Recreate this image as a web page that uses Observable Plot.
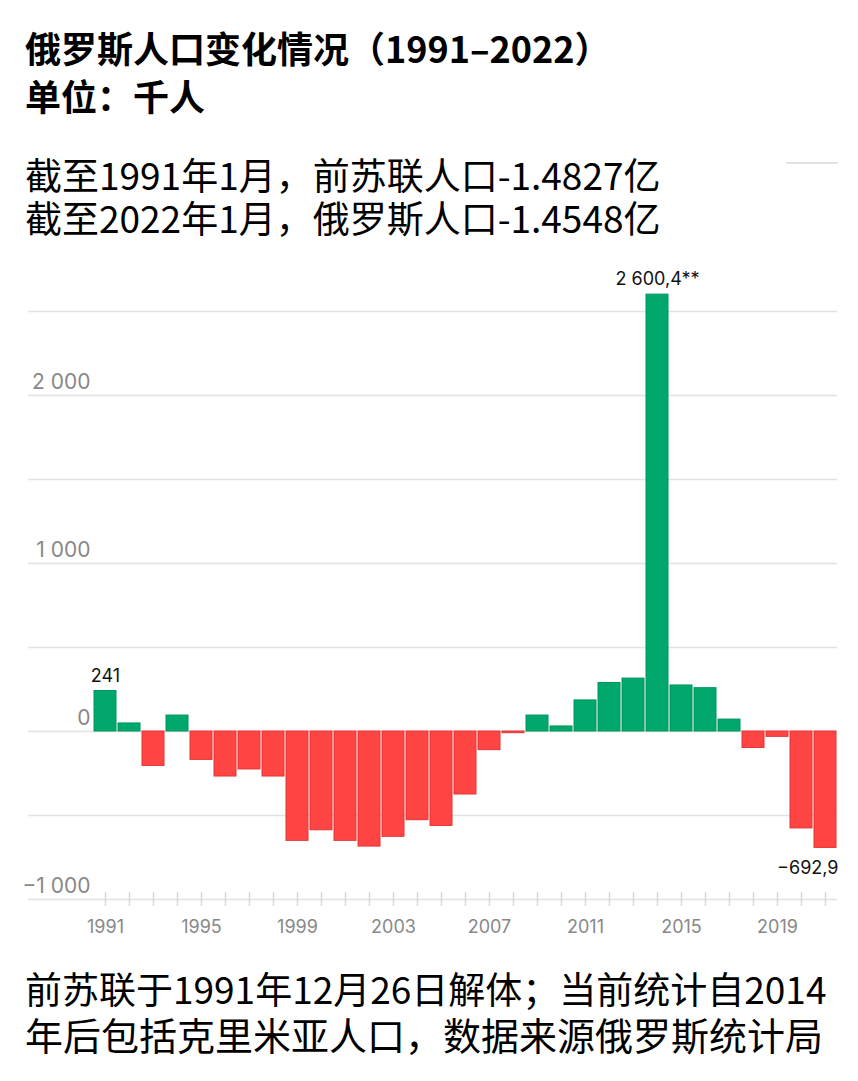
<!DOCTYPE html>
<html><head><meta charset="utf-8">
<script src="https://cdn.jsdelivr.net/npm/d3@7"></script>
<script src="https://cdn.jsdelivr.net/npm/@observablehq/plot@0.6"></script>
<style>
html,body{margin:0;padding:0;background:#fff;}
body{width:858px;height:1081px;position:relative;overflow:hidden;font-family:"Noto Sans CJK SC","Noto Sans",sans-serif;color:#000;}
.t{position:absolute;left:25px;white-space:nowrap;line-height:1;}
.tt{font-size:36px;font-weight:700;}
.st{font-size:37px;}
.ft{font-size:38px;}
#chart{position:absolute;left:0;top:250px;}
#deco{position:absolute;left:786px;top:162px;width:52px;height:2px;background:#e3e3e3;}
</style>
</head><body>
<div class="t tt" style="top:29px">俄罗斯人口变化情况（1991–2022）</div>
<div class="t tt" style="top:77px">单位：千人</div>
<div class="t st" style="top:156px">截至1991年1月，前苏联人口-1.4827亿</div>
<div class="t st" style="top:199px">截至2022年1月，俄罗斯人口-1.4548亿</div>
<div id="deco"></div>
<div id="chart"></div>
<div class="t ft" style="top:970px;font-size:37px">前苏联于1991年12月26日解体；当前统计自2014</div>
<div class="t ft" style="top:1015px">年后包括克里米亚人口，数据来源俄罗斯统计局</div>
<script>
const years = [1991,1992,1993,1994,1995,1996,1997,1998,1999,2000,2001,2002,2003,2004,2005,2006,2007,2008,2009,2010,2011,2012,2013,2014,2015,2016,2017,2018,2019,2020,2021];
const changes = [241,48,-205,95,-169,-268,-226,-268,-651,-588,-651,-685,-627,-528,-562,-375,-111,-10,95,30,185,289,315,2600.4,274,258,71,-98,-32,-577,-692.9];
const xTickYears = [1991,1995,1999,2003,2007,2011,2015,2019];
const yTickValues = [-1000,0,1000,2000];
const yTickLabels = ["−1 000","0","1 000","2 000"];
const gridValues = [-1000,-500,0,500,1000,1500,2000,2500];
const annotYears = [1991,2014,2021];
const annotTexts = ["241","2 600,4**","−692,9"];

const green = "#00a86b", greenStroke = "#00955f";
const red = "#ff4444", redStroke = "#e33535";

const data = years.map((y,i)=>({year:y, value:changes[i]}));
const annot = annotYears.map((y,i)=>({year:y, value:changes[years.indexOf(y)], text:annotTexts[i]}));
const yTicks = yTickValues.map((v,i)=>({v, label:yTickLabels[i]}));
const numFont = "Inter, 'Liberation Sans', sans-serif";

const chart = Plot.plot({
  width: 858, height: 700,
  marginLeft: 93, marginRight: 21, marginTop: 27.4, marginBottom: 51,
  style: {fontFamily: numFont, background: "transparent"},
  x: {type: "band", domain: years, paddingInner: 0.08, paddingOuter: 0.04, axis: null},
  y: {domain: [-1000, 2700], axis: null},
  marks: [
    Plot.ruleY(gridValues, {y: d=>d, stroke: "#e2e2e2", strokeWidth: 1.5, insetLeft: -65}),
    Plot.ruleX(years, {x: d=>d, y1: -1000, y2: -1000, insetTop: -7, insetBottom: -7, stroke: "#d8d8d8", strokeWidth: 1.5}),
    Plot.barY(data, {x: "year", y: "value",
      fill: d => d.value >= 0 ? green : red,
      stroke: d => d.value >= 0 ? greenStroke : redStroke, strokeWidth: 1}),
    Plot.text(yTicks, {y: "v", text: "label", frameAnchor: "left", textAnchor: "end", dx: -3, dy: -13, fill: "#888", fontSize: 21}),
    Plot.text(xTickYears, {x: d=>d, y: -1000, text: d=>String(d), dy: 28, fill: "#888", fontSize: 18}),
    Plot.text(annot.filter(d=>d.value>=0), {x: "year", y: "value", text: "text", dy: -15, fill: "#111", fontSize: 18}),
    Plot.text(annot.filter(d=>d.value<0), {x: "year", y: "value", text: "text", dy: 20, dx: 13, textAnchor: "end", fill: "#111", fontSize: 18})
  ]
});
document.getElementById("chart").appendChild(chart);
</script>
</body></html>
